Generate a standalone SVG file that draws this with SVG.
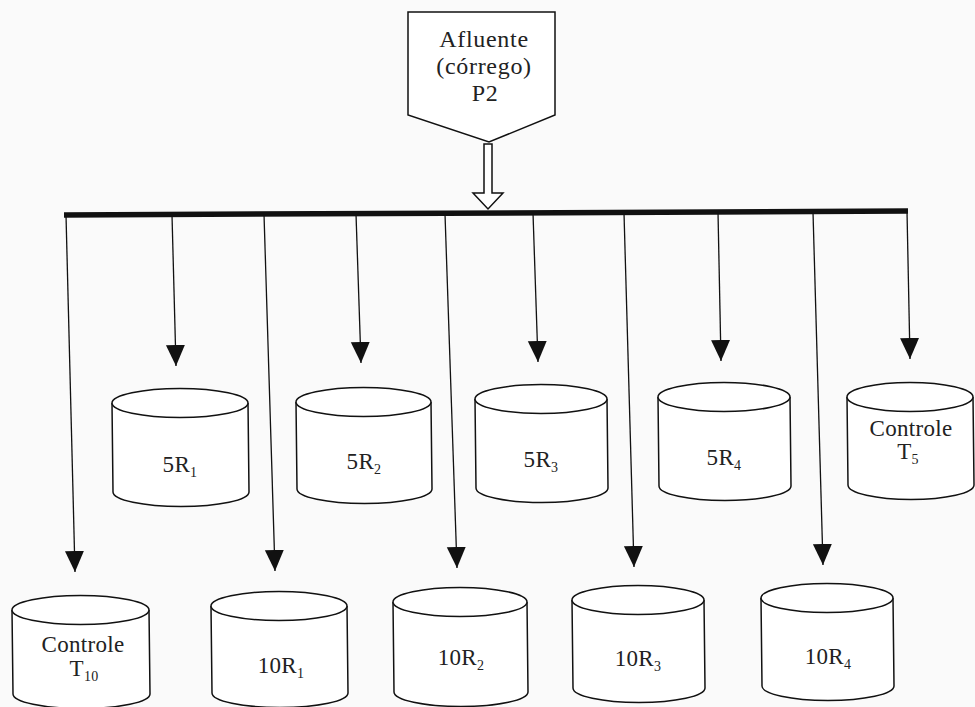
<svg xmlns="http://www.w3.org/2000/svg" width="975" height="707" viewBox="0 0 975 707">
<defs>
<style>
.shape{fill:#fff;stroke:#111;stroke-width:1.5}
.conn{stroke:#111;stroke-width:1.3;fill:none;marker-end:url(#ah)}
.lbl{font-family:"Liberation Serif","Times New Roman",serif;font-size:23px;fill:#222;text-anchor:middle;letter-spacing:0.3px}
.big{font-size:24px;letter-spacing:0.7px}
.sub{font-size:14px}
</style>
<marker id="ah" markerUnits="userSpaceOnUse" markerWidth="21" markerHeight="20" viewBox="0 0 21 20" refX="21" refY="10" orient="auto">
<path d="M0,0.5 L21,10 L0,19.5 Z" fill="#111"/>
</marker>
</defs>
<rect width="975" height="707" fill="#fafafa"/>

<g id="afluente">
<polygon class="shape" points="408,12 555,12 555,115 489,142 408,115"/>
<text class="lbl big" x="484" y="47">Afluente</text>
<text class="lbl big" x="484" y="74">(córrego)</text>
<text class="lbl big" x="485" y="101">P2</text>
</g>

<g id="connectors">
<polygon class="shape" points="484,144 492,144 492,193 503,193 488,209 473,193 484,193"/>
<line x1="64" y1="215" x2="908" y2="211" stroke="#111" stroke-width="5.5"/>
<line class="conn" x1="66" y1="215" x2="75" y2="572"/>
<line class="conn" x1="264" y1="214" x2="275" y2="571"/>
<line class="conn" x1="445" y1="214" x2="457" y2="568"/>
<line class="conn" x1="624" y1="213" x2="634" y2="567"/>
<line class="conn" x1="813" y1="212" x2="823" y2="565"/>
<line class="conn" x1="172" y1="215" x2="176" y2="366"/>
<line class="conn" x1="356" y1="214" x2="361" y2="363"/>
<line class="conn" x1="533" y1="213" x2="538" y2="362"/>
<line class="conn" x1="718" y1="212" x2="721" y2="361"/>
<line class="conn" x1="907" y1="211" x2="910" y2="359"/>
</g>

<g id="n5R1">
<path class="shape" d="M112,403 L113,492 A68,14.5 0 0 0 249,492 L248,403"/>
<ellipse class="shape" cx="180" cy="403" rx="68" ry="14.5"/>
<text class="lbl" x="180" y="472">5R<tspan class="sub" dy="5">1</tspan></text>
</g>
<g id="n5R2">
<path class="shape" d="M296,402 L297,489 A67.5,14.5 0 0 0 432,489 L431,402"/>
<ellipse class="shape" cx="363.5" cy="402" rx="67.5" ry="14.5"/>
<text class="lbl" x="364" y="469">5R<tspan class="sub" dy="5">2</tspan></text>
</g>
<g id="n5R3">
<path class="shape" d="M475,399 L476,488 A66,14.5 0 0 0 608,488 L607,399"/>
<ellipse class="shape" cx="541" cy="399" rx="66" ry="14.5"/>
<text class="lbl" x="541" y="467">5R<tspan class="sub" dy="5">3</tspan></text>
</g>
<g id="n5R4">
<path class="shape" d="M658,397 L659,486 A66,14.5 0 0 0 791,486 L790,397"/>
<ellipse class="shape" cx="724" cy="397" rx="66" ry="14.5"/>
<text class="lbl" x="724" y="465">5R<tspan class="sub" dy="5">4</tspan></text>
</g>
<g id="nT5">
<path class="shape" d="M847,397 L848,485 A63,14.5 0 0 0 974,485 L973,397"/>
<ellipse class="shape" cx="910" cy="397" rx="63" ry="14.5"/>
<text class="lbl" x="911" y="436">Controle</text>
<text class="lbl" x="908" y="459">T<tspan class="sub" dy="5">5</tspan></text>
</g>

<g id="nT10">
<path class="shape" d="M12,610 L13,694 A68.5,14.5 0 0 0 150,694 L149,610"/>
<ellipse class="shape" cx="80.5" cy="610" rx="68.5" ry="14.5"/>
<text class="lbl" x="83" y="652">Controle</text>
<text class="lbl" x="84" y="676">T<tspan class="sub" dy="5">10</tspan></text>
</g>
<g id="n10R1">
<path class="shape" d="M211,606 L212,693 A68,14.5 0 0 0 348,693 L347,606"/>
<ellipse class="shape" cx="279" cy="606" rx="68" ry="14.5"/>
<text class="lbl" x="281" y="673">10R<tspan class="sub" dy="5">1</tspan></text>
</g>
<g id="n10R2">
<path class="shape" d="M393,602 L394,692 A67,14.5 0 0 0 528,692 L527,602"/>
<ellipse class="shape" cx="460" cy="602" rx="67" ry="14.5"/>
<text class="lbl" x="461" y="665">10R<tspan class="sub" dy="5">2</tspan></text>
</g>
<g id="n10R3">
<path class="shape" d="M572,600 L573,688 A66,14.5 0 0 0 705,688 L704,600"/>
<ellipse class="shape" cx="638" cy="600" rx="66" ry="14.5"/>
<text class="lbl" x="638" y="666">10R<tspan class="sub" dy="5">3</tspan></text>
</g>
<g id="n10R4">
<path class="shape" d="M761,598 L762,686 A66,14.5 0 0 0 894,686 L893,598"/>
<ellipse class="shape" cx="827" cy="598" rx="66" ry="14.5"/>
<text class="lbl" x="828" y="664">10R<tspan class="sub" dy="5">4</tspan></text>
</g>
</svg>
